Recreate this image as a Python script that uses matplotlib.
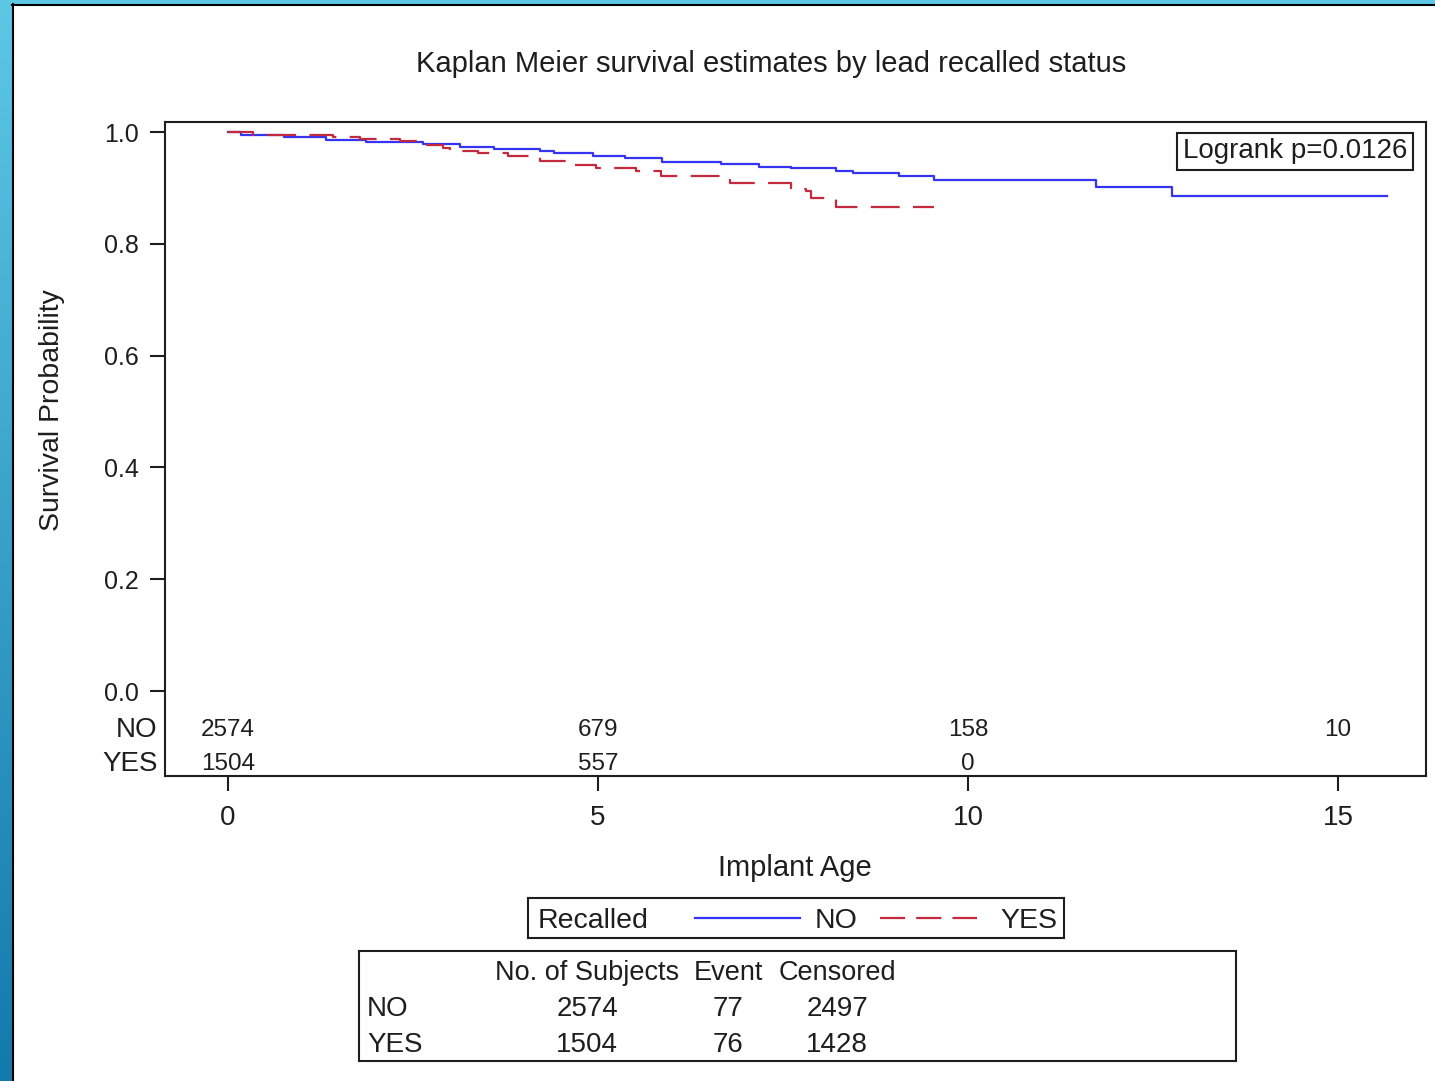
import matplotlib
matplotlib.use("Agg")
import matplotlib.pyplot as plt
from matplotlib.lines import Line2D
import numpy as np

plt.rcParams['font.family'] = ['Liberation Sans', 'DejaVu Sans']

# Kaplan-Meier step curves (time, survival after step)
no_time = [0, 0.18, 0.76, 1.33, 1.87, 2.64, 3.14, 3.59, 4.22, 4.40, 4.94, 5.36,
           5.87, 6.67, 7.18, 7.61, 8.22, 8.45, 9.07, 9.54, 11.73, 12.76, 15.66]
no_surv = [1.0, 0.995, 0.9905, 0.9857, 0.982, 0.978, 0.9737, 0.970, 0.9666, 0.9624,
           0.958, 0.954, 0.9458, 0.942, 0.938, 0.935, 0.930, 0.926, 0.922, 0.914,
           0.902, 0.886, 0.886]

yes_time = [0, 0.34, 1.42, 1.78, 2.32, 2.64, 2.91, 3.0, 3.38, 3.79, 4.22, 4.62,
            4.98, 5.52, 5.85, 6.71, 6.79, 7.61, 7.81, 7.88, 8.22, 9.54]
yes_surv = [1.0, 0.9946, 0.991, 0.9869, 0.9839, 0.9767, 0.9708, 0.9666, 0.9624,
            0.957, 0.948, 0.941, 0.935, 0.930, 0.921, 0.914, 0.909, 0.899, 0.894,
            0.882, 0.866, 0.866]

# number at risk rows
risk_times = [0, 5, 10, 15]
risk_no = [2574, 679, 158, 10]
risk_yes = [1504, 557, 0]

# summary table
groups = ["NO", "YES"]
n_subjects = [2574, 1504]
n_events = [77, 76]
n_censored = [2497, 1428]

logrank_p = 0.0126

blue = '#3434F2'
red = '#C32A3E'
ink = '#1E1E1E'
VA = 'center_baseline'

W, H = 1435, 1081
fig = plt.figure(figsize=(W / 100, H / 100), dpi=100)
fig.patch.set_facecolor('white')

# slide frame: blue gradient strip on left and top
strip = fig.add_axes([0, 0, 12 / W, 1])
grad = np.linspace(0, 1, 256).reshape(-1, 1)
cmap = matplotlib.colors.LinearSegmentedColormap.from_list('fr', ['#5CC8E5', '#1379AC'])
strip.imshow(grad, aspect='auto', cmap=cmap, extent=[0, 1, 0, 1])
strip.axis('off')
topstrip = fig.add_axes([0, 1 - 4 / H, 1, 4 / H])
topstrip.set_facecolor('#5CC8E5')
topstrip.set_xticks([]); topstrip.set_yticks([])
for s in topstrip.spines.values():
    s.set_visible(False)
fig.add_artist(Line2D([12.5 / W, 12.5 / W], [0, 1 - 4 / H], color='black', lw=1.5))
fig.add_artist(Line2D([12 / W, 1], [1 - 4.5 / H, 1 - 4.5 / H], color='black', lw=1.5))

# main plot
ax = fig.add_axes([165 / W, 1 - 776 / H, (1426 - 165) / W, (776 - 122) / H])
ax.step(no_time, no_surv, where='post', color=blue, lw=1.6, zorder=3)
ax.step(yes_time, yes_surv, where='post', color=red, lw=1.6,
        dashes=(13, 6), zorder=4)

ax.set_xlim(-0.85, 16.19)
ax.set_ylim(-0.152, 1.018)
ax.set_yticks([0.0, 0.2, 0.4, 0.6, 0.8, 1.0])
ax.set_yticklabels(['0.0', '0.2', '0.4', '0.6', '0.8', '1.0'])
ax.set_xticks([0, 5, 10, 15])
ax.tick_params(axis='y', direction='out', length=11, width=1.5, pad=8,
               labelsize=18, colors=ink)
ax.tick_params(axis='x', direction='out', length=11, width=1.5, pad=10,
               labelsize=20, colors=ink)
for s in ax.spines.values():
    s.set_linewidth(1.5)
    s.set_color(ink)

# at-risk numbers inside the plot
for t, n in zip(risk_times, risk_no):
    ax.text(t, -0.0644, str(n), ha='center', va=VA, fontsize=17.5, color=ink)
for t, n in zip(risk_times, risk_yes):
    ax.text(t, -0.1252, str(n), ha='center', va=VA, fontsize=17.5, color=ink)
ytr = ax.get_yaxis_transform()
ax.text(-0.006, -0.0644, 'NO', transform=ytr, ha='right', va=VA,
        fontsize=20, color=ink)
ax.text(-0.006, -0.1252, 'YES', transform=ytr, ha='right', va=VA,
        fontsize=20, color=ink)

ax.text(0.896, 0.955, f'Logrank p={logrank_p}', transform=ax.transAxes,
        ha='center', va='center', fontsize=20, color=ink,
        bbox=dict(boxstyle='square,pad=0.2', fc='white', ec=ink, lw=1.5))

fig.text(771 / W, 1 - 61 / H, 'Kaplan Meier survival estimates by lead recalled status',
         ha='center', va=VA, fontsize=21, color=ink)
fig.text(52 / W, 1 - 410 / H, 'Survival Probability', rotation=90,
         ha='center', va='center', fontsize=20.5, color=ink)
fig.text(795 / W, 1 - 865 / H, 'Implant Age', ha='center', va=VA,
         fontsize=21, color=ink)

# legend box
lg = fig.add_axes([528 / W, 1 - 938 / H, (1064 - 528) / W, 40 / H])
lg.set_xlim(528, 1064)
lg.set_ylim(938, 898)
lg.set_xticks([]); lg.set_yticks([])
for s in lg.spines.values():
    s.set_linewidth(1.5)
    s.set_color(ink)
lg.text(538, 918, 'Recalled', ha='left', va=VA, fontsize=20.5, color=ink)
lg.plot([695, 800], [918, 918], color=blue, lw=1.6)
lg.text(815, 918, groups[0], ha='left', va=VA, fontsize=20.5, color=ink)
lg.plot([880, 977], [918, 918], color=red, lw=1.6, dashes=(11.3, 5))
lg.text(1000, 918, groups[1], ha='left', va=VA, fontsize=20.5, color=ink)

# summary table box
tb = fig.add_axes([359 / W, 1 - 1061 / H, (1236 - 359) / W, (1061 - 951) / H])
tb.set_xlim(359, 1236)
tb.set_ylim(1061, 951)
tb.set_xticks([]); tb.set_yticks([])
for s in tb.spines.values():
    s.set_linewidth(1.5)
    s.set_color(ink)
col_x = [587, 728, 837]
headers = ['No. of Subjects', 'Event', 'Censored']
for cx, h in zip(col_x, headers):
    tb.text(cx, 970, h, ha='center', va=VA, fontsize=19.5, color=ink)
row_y = [1006, 1042]
for ry, g, a, b, c in zip(row_y, groups, n_subjects, n_events, n_censored):
    tb.text(367, ry, g, ha='left', va=VA, fontsize=20, color=ink)
    for cx, v in zip(col_x, [a, b, c]):
        tb.text(cx, ry, str(v), ha='center', va=VA, fontsize=20, color=ink)

fig.savefig('out.png', dpi=100)
